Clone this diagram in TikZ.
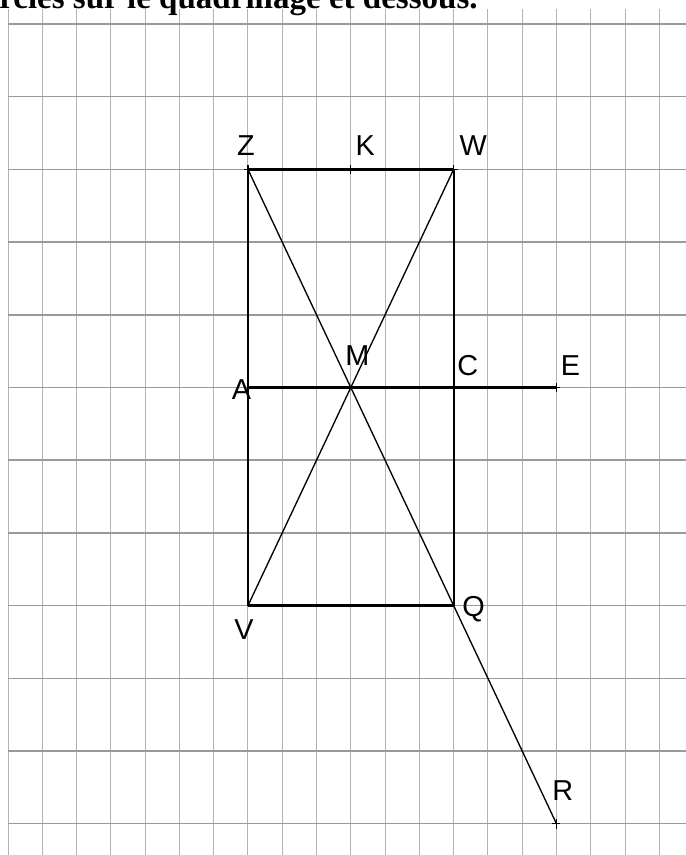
\documentclass[tikz,border=0pt]{standalone}
\usepackage{fontspec}
\usepackage{tikz}
\usepackage{xcolor}
\usetikzlibrary{positioning}
\newfontfamily\lblfont{Liberation Sans}
\newfontfamily\headfont{Liberation Serif}
\definecolor{GridDark}{HTML}{9A9A9A}
\definecolor{GridLight}{HTML}{B4B4B4}
\definecolor{InkBlack}{HTML}{000000}
\tikzset{
    % Grid styles
    gridrow/.style={
        draw=GridDark,
        line width=1.05pt
    },
    gridcol/.style={
        draw=GridLight,
        line width=0.7pt
    },
    % Segment styles
    boldseg/.style={
        draw=InkBlack,
        line width=2.1pt
    },
    sideseg/.style={
        draw=InkBlack,
        line width=1.4pt
    },
    diagseg/.style={
        draw=InkBlack,
        line width=0.95pt
    },
    tickmark/.style={
        draw=InkBlack,
        line width=0.9pt
    },
    % Text styles
    ptlabel/.style={
        inner sep=0pt,
        font=\lblfont\fontsize{20.5}{22}\selectfont
    },
    heading/.style={
        inner sep=0pt,
        anchor=base west,
        font=\headfont\bfseries\fontsize{23.5}{26}\selectfont
    }
}

\begin{document}
\begin{tikzpicture}[x=0.857cm, y=-1.8175cm]
    \useasboundingbox (-0.2334,-0.3301) rectangle (19.778,11.4305);

    % Heading (cut by the page top)
    \node[heading] (title) at (-0.2625,-0.2132) {rcles sur le quadrillage et dessous.};

    % Grid
    \foreach \c in {0,...,19}
        \draw[gridcol] (\c,-0.2022) -- (\c,11.4305);
    \foreach \r in {0,...,11}
        \draw[gridrow] (0,\r) -- (19.778,\r);

    % Points
    \coordinate (Z) at (7,2);
    \coordinate (K) at (10,2);
    \coordinate (W) at (13,2);
    \coordinate (A) at (7,5);
    \coordinate (M) at (10,5);
    \coordinate (C) at (13,5);
    \coordinate (E) at (16,5);
    \coordinate (V) at (7,8);
    \coordinate (Q) at (13,8);
    \coordinate (R) at (16,11);

    % Segments
    \draw[sideseg] (Z) -- (V);
    \draw[sideseg] (W) -- (Q);
    \draw[diagseg] (Z) -- (R);
    \draw[diagseg] (W) -- (V);
    \draw[boldseg] (Z) -- (W);
    \draw[boldseg] (A) -- (E);
    \draw[boldseg] (V) -- (Q);

    % Ticks
    \foreach \p in {Z,K,W,E,R}
        \draw[tickmark] ([yshift=-0.12cm]\p) -- ([yshift=0.12cm]\p)
                        ([xshift=-0.1cm]\p) -- ([xshift=0.1cm]\p);

    % Labels
    \node[ptlabel, anchor=base, xshift=-0.05cm, yshift=0.335cm] (lZ) at (Z) {Z};
    \node[ptlabel, anchor=base west, xshift=0.115cm, yshift=0.335cm] (lK) at (K) {K};
    \node[ptlabel, anchor=base west, xshift=0.145cm, yshift=0.335cm] (lW) at (W) {W};
    \node[ptlabel, anchor=base west, xshift=-0.145cm, yshift=0.56cm] (lM) at (M) {M};
    \node[ptlabel, anchor=base west, xshift=0.085cm, yshift=0.3cm] (lC) at (C) {C};
    \node[ptlabel, anchor=base west, xshift=0.1cm, yshift=0.31cm] (lE) at (E) {E};
    \node[ptlabel, anchor=base west, xshift=-0.41cm, yshift=-0.29cm] (lA) at (A) {A};
    \node[ptlabel, anchor=base, xshift=-0.1cm, yshift=-0.85cm] (lV) at (V) {V};
    \node[ptlabel, anchor=base west, xshift=0.21cm, yshift=-0.27cm] (lQ) at (Q) {Q};
    \node[ptlabel, anchor=base west, xshift=-0.11cm, yshift=0.57cm] (lR) at (R) {R};
\end{tikzpicture}
\end{document}
